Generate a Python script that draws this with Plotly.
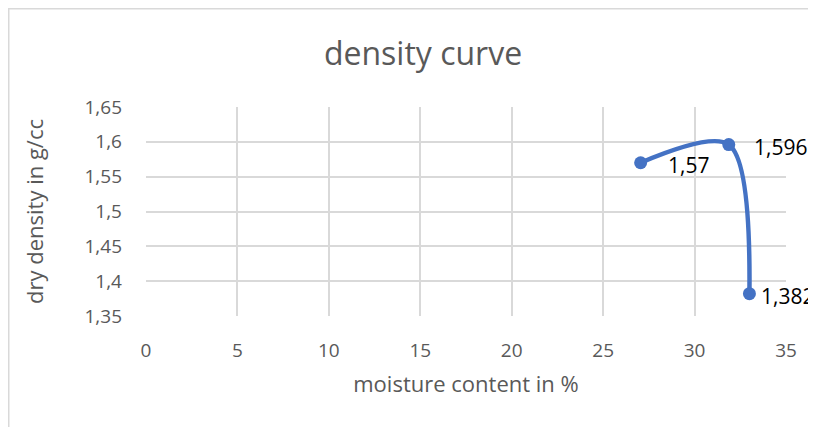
import plotly.graph_objects as go

moisture = [27.05, 31.87, 33.0]
density = [1.57, 1.596, 1.382]
labels = [str(v).replace('.', ',') for v in density]

x_ticks = [0, 5, 10, 15, 20, 25, 30, 35]
y_ticks = [1.35, 1.4, 1.45, 1.5, 1.55, 1.6, 1.65]
y_ticktext = [str(v).replace('.', ',') for v in y_ticks]

# page body has an 8px margin: figure origin sits at screen (8, 8)
W, H = 808, 419
L, R, T, B = 138, 30, 99, 111
pw, ph = W - L - R, H - T - B

def px(fx):
    return (fx - L) / pw

def py(fy):
    return (H - B - fy) / ph

gray = '#595959'
font_family = 'Open Sans, sans-serif'

fig = go.Figure()
fig.add_trace(go.Scatter(
    x=moisture, y=density, mode='lines+markers',
    line=dict(color='#4472C4', width=4.5, shape='spline', smoothing=0.9),
    marker=dict(color='#4472C4', size=13),
    cliponaxis=False, showlegend=False,
))

label_shift = [25, 23, 10]
annotations = []
for xv, yv, t, s in zip(moisture, density, labels, label_shift):
    annotations.append(dict(x=xv, y=yv, xref='x', yref='y', text=t, showarrow=False,
                            xanchor='left', yanchor='middle', xshift=s, yshift=-2,
                            font=dict(family=font_family, size=21, color='#000000')))

fig.update_layout(
    width=W, height=H,
    margin=dict(l=L, r=R, t=T, b=B),
    paper_bgcolor='white', plot_bgcolor='white',
    title=dict(text='density curve', x=px(415), xref='paper', xanchor='center',
               y=1 - 46 / H, yanchor='middle',
               font=dict(family=font_family, size=32, color=gray)),
    font=dict(family=font_family, color=gray),
    xaxis=dict(range=[0, 35], tickvals=x_ticks, showgrid=True, gridcolor='#d9d9d9',
               gridwidth=1.5, zeroline=False, showline=False, ticks='',
               ticklabelstandoff=21,
               tickfont=dict(size=19, color=gray),
               title=dict(text='moisture content in %', font=dict(size=22, color=gray), standoff=14)),
    yaxis=dict(range=[1.35, 1.65], tickvals=y_ticks, ticktext=y_ticktext, showgrid=True,
               gridcolor='#d9d9d9', gridwidth=1.5, zeroline=False, showline=False, ticks='',
               ticklabelstandoff=23,
               tickfont=dict(size=19, color=gray),
               title=dict(text='dry density in g/cc', font=dict(size=22, color=gray), standoff=34)),
    annotations=annotations,
    shapes=[
        dict(type='line', xref='paper', yref='paper', x0=px(0), x1=px(0),
             y0=py(0), y1=py(H + 10), line=dict(color='#d9d9d9', width=3)),
        dict(type='line', xref='paper', yref='paper', x0=px(0), x1=px(W + 10),
             y0=py(0), y1=py(0), line=dict(color='#d9d9d9', width=3)),
    ],
)

fig.write_html('out.html')
